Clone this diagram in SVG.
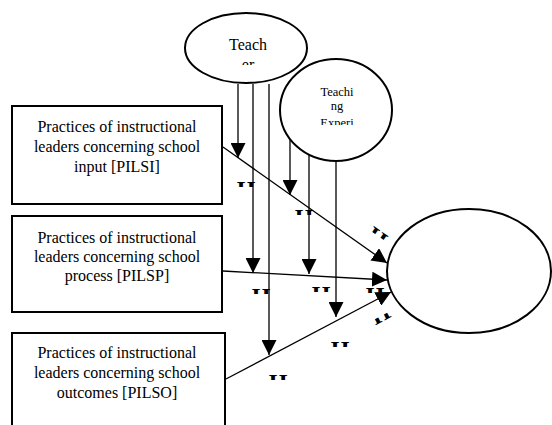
<svg xmlns="http://www.w3.org/2000/svg" xmlns:xlink="http://www.w3.org/1999/xlink" width="552" height="425" viewBox="0 0 552 425">
<style>
.box{fill:#fff;stroke:#000;stroke-width:2}
.ell{fill:#fff;stroke:#000;stroke-width:2}
text{font-family:'Liberation Serif',serif;fill:#000;text-anchor:middle}
.lbl{font-size:16px}
.con{stroke:#000;stroke-width:1.3;fill:none;marker-end:url(#ah)}
.mk{font-size:24px;font-weight:bold}
</style>
<defs>
<marker id="ah" markerUnits="userSpaceOnUse" markerWidth="15" markerHeight="15" refX="15" refY="7.5" orient="auto">
<path d="M0,0 L15,7.5 L0,15 z" fill="#000"/>
</marker>
<clipPath id="top"><rect x="-14" y="-18" width="28" height="8"/></clipPath>
<g id="mark"><text class="mk" x="0" y="0" clip-path="url(#top)">H</text></g>
<clipPath id="c1"><rect x="180" y="20" width="140" height="45"/></clipPath>
<clipPath id="c2"><rect x="280" y="60" width="112" height="65"/></clipPath>
</defs>
<g id="connectors">
<line class="con" x1="238" y1="84" x2="238" y2="158"/>
<line class="con" x1="253" y1="84" x2="253" y2="273"/>
<line class="con" x1="269" y1="84" x2="269" y2="355"/>
<line class="con" x1="290" y1="139" x2="290" y2="195"/>
<line class="con" x1="309" y1="155" x2="309" y2="274"/>
<line class="con" x1="336" y1="161" x2="336" y2="317"/>
<line class="con" x1="223" y1="147" x2="387" y2="263"/>
<line class="con" x1="223" y1="271" x2="387" y2="280"/>
<line class="con" x1="226" y1="379" x2="391" y2="292"/>
</g>
<g id="teacher">
<ellipse class="ell" cx="246" cy="48" rx="61" ry="35"/>
<g clip-path="url(#c1)">
<text style="font-size:16px" x="248" y="50">Teach</text>
<text style="font-size:16px" x="248" y="70">er</text>
</g>
</g>
<g id="teaching-experience">
<ellipse class="ell" cx="336" cy="110" rx="56" ry="51"/>
<g clip-path="url(#c2)">
<text style="font-size:12.5px" x="337" y="96">Teachi</text>
<text style="font-size:12.5px" x="337" y="110">ng</text>
<text style="font-size:12.5px" x="337" y="127">Experi</text>
</g>
</g>
<g id="pilsi">
<rect class="box" x="12" y="106" width="210" height="98"/>
<text class="lbl" x="117" y="132">Practices of instructional</text>
<text class="lbl" x="117" y="152">leaders concerning school</text>
<text class="lbl" x="117" y="172">input [PILSI]</text>
</g>
<g id="pilsp">
<rect class="box" x="12" y="216" width="210" height="96"/>
<text class="lbl" x="117" y="243">Practices of instructional</text>
<text class="lbl" x="117" y="262">leaders  concerning school</text>
<text class="lbl" x="117" y="281">process  [PILSP]</text>
</g>
<g id="pilso">
<rect class="box" x="12" y="333" width="213" height="110"/>
<text class="lbl" x="117" y="358">Practices of instructional</text>
<text class="lbl" x="117" y="378">leaders  concerning school</text>
<text class="lbl" x="117" y="398">outcomes  [PILSO]</text>
</g>
<g id="outcome">
<ellipse class="ell" cx="469" cy="271" rx="82" ry="62"/>
</g>
<g id="marks">
<use xlink:href="#mark" transform="translate(246,197)"/>
<use xlink:href="#mark" transform="translate(304,225)"/>
<use xlink:href="#mark" transform="translate(261,304)"/>
<use xlink:href="#mark" transform="translate(321,302)"/>
<use xlink:href="#mark" transform="translate(340,357)"/>
<use xlink:href="#mark" transform="translate(278,390)"/>
<use xlink:href="#mark" transform="translate(375,303)"/>
<use xlink:href="#mark" transform="translate(378,236) rotate(35) translate(0,10)"/>
<use xlink:href="#mark" transform="translate(381,316) rotate(152) translate(0,10)"/>
</g>
</svg>
